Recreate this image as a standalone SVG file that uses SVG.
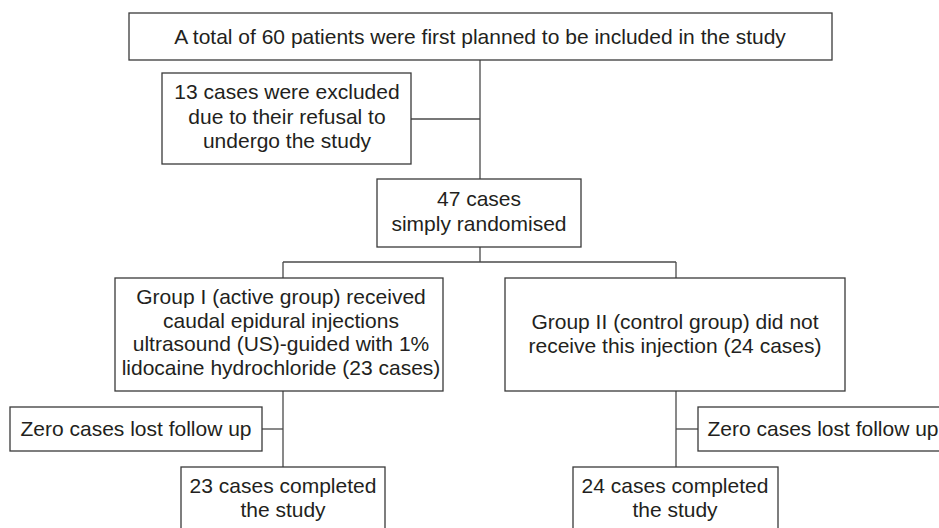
<svg xmlns="http://www.w3.org/2000/svg" width="939" height="528" viewBox="0 0 939 528">
<style>
.box{fill:#fff;stroke:#3a3a3a;stroke-width:1.3}
.ln{fill:none;stroke:#4a4a4a;stroke-width:1.3}
text{font-family:"Liberation Sans",Arial,sans-serif;font-size:21px;fill:#231f20;text-anchor:middle}
</style>
<rect width="939" height="528" fill="#fff"/>
<g id="connectors">
<path class="ln" d="M480,60 V179"/>
<path class="ln" d="M411,119 H480"/>
<path class="ln" d="M480,247 V262"/>
<path class="ln" d="M283,262 H676"/>
<path class="ln" d="M283,262 V278"/>
<path class="ln" d="M676,262 V278"/>
<path class="ln" d="M283,391 V467"/>
<path class="ln" d="M262,429 H283"/>
<path class="ln" d="M676,391 V467"/>
<path class="ln" d="M676,429 H698"/>
</g>
<g id="n-total">
<rect class="box" x="129" y="13" width="703" height="47"/>
<text x="480" y="44">A total of 60 patients were first planned to be included in the study</text>
</g>
<g id="n-excluded">
<rect class="box" x="162" y="73" width="249" height="91"/>
<text x="287" y="99">13 cases were excluded</text>
<text x="287" y="124">due to their refusal to</text>
<text x="287" y="148">undergo the study</text>
</g>
<g id="n-randomised">
<rect class="box" x="377" y="179" width="204" height="68"/>
<text x="479" y="206">47 cases</text>
<text x="479" y="231">simply randomised</text>
</g>
<g id="n-group1">
<rect class="box" x="115" y="278" width="328" height="113"/>
<text x="281" y="304">Group I (active group) received</text>
<text x="281" y="328">caudal epidural injections</text>
<text x="281" y="351">ultrasound (US)-guided with 1%</text>
<text x="281" y="375">lidocaine hydrochloride (23 cases)</text>
</g>
<g id="n-group2">
<rect class="box" x="505" y="278" width="340" height="113"/>
<text x="675" y="329">Group II (control group) did not</text>
<text x="675" y="353">receive this injection (24 cases)</text>
</g>
<g id="n-lost1">
<rect class="box" x="10" y="407" width="252" height="44"/>
<text x="136" y="436">Zero cases lost follow up</text>
</g>
<g id="n-lost2">
<rect class="box" x="698" y="407" width="252" height="44"/>
<text x="823" y="436">Zero cases lost follow up</text>
</g>
<g id="n-completed1">
<rect class="box" x="181" y="467" width="204" height="70"/>
<text x="283" y="493">23 cases completed</text>
<text x="283" y="517">the study</text>
</g>
<g id="n-completed2">
<rect class="box" x="573" y="467" width="205" height="70"/>
<text x="675" y="493">24 cases completed</text>
<text x="675" y="517">the study</text>
</g>
</svg>
